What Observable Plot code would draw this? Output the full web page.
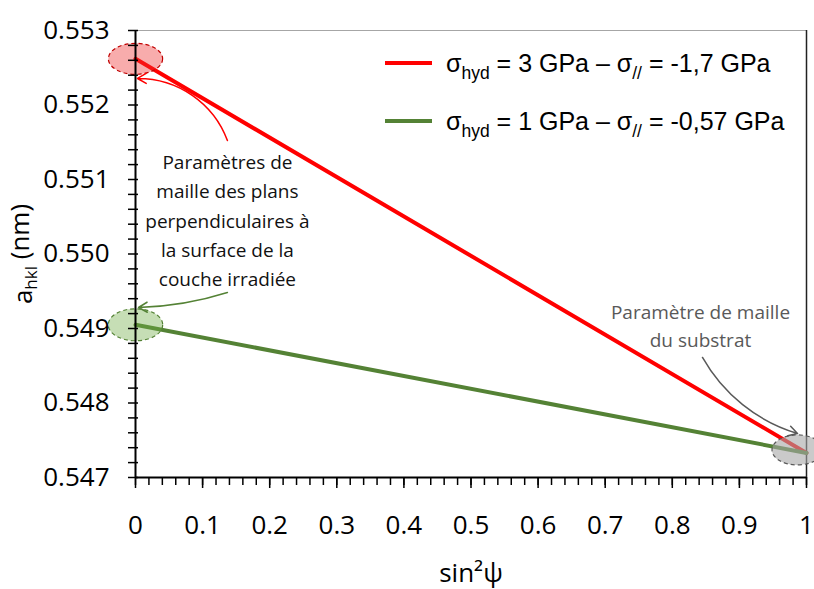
<!DOCTYPE html>
<html><head><meta charset="utf-8">
<script src="https://cdn.jsdelivr.net/npm/d3@7"></script>
<script src="https://cdn.jsdelivr.net/npm/@observablehq/plot@0.6"></script>
<style>
body{margin:0;background:#fff;}
#wrap{position:relative;width:814px;height:589px;}
#legend{position:absolute;left:0;top:0;font-family:"Liberation Sans",Arial,sans-serif;font-size:25px;color:#000;}
.item{position:absolute;left:385px;height:30px;display:flex;align-items:center;white-space:nowrap;}
.sw{width:47px;height:4px;margin-right:14px;}
.item sub{font-size:17.5px;vertical-align:-7px;line-height:0;}
</style></head><body>
<div id="wrap"><div id="chart"></div><div id="legend"></div></div>
<script>
// ---- data ----
const sin2psi = [0, 1];
const hydStress = ["3", "1"];
const parStress = ["-1,7", "-0,57"];
const aRed = [0.55262, 0.54733];
const aGreen = [0.54905, 0.54733];
const seriesColors = ["#ff0000", "#548235"];
const xTicks = [0, 0.1, 0.2, 0.3, 0.4, 0.5, 0.6, 0.7, 0.8, 0.9, 1];
const yTicks = [0.547, 0.548, 0.549, 0.550, 0.551, 0.552, 0.553];
const noteText = ["Paramètres de\nmaille des plans\nperpendiculaires à\nla surface de la\ncouche irradiée", "Paramètre de maille\ndu substrat"];
const noteX = [0.137, 0.842];
const noteY = [0.55048, 0.549054];

const seriesNames = hydStress.map((h, i) => `σhyd = ${h} GPa – σ// = ${parStress[i]} GPa`);
const rows = [];
[aRed, aGreen].forEach((vals, i) => sin2psi.forEach((x, j) => rows.push({series: seriesNames[i], x, y: vals[j]})));

const xMinor = d3.range(0, 50.5).map(i => i * 0.02);
const yMinor = d3.range(0, 30.5).map(i => 0.547 + i * 0.0002);

function ellipseSymbol(aspect) {
  return {draw(ctx, size) {
    const ry = Math.sqrt(size / Math.PI), rx = ry * aspect, k = 0.5523;
    ctx.moveTo(rx, 0);
    ctx.bezierCurveTo(rx, k * ry, k * rx, ry, 0, ry);
    ctx.bezierCurveTo(-k * rx, ry, -rx, k * ry, -rx, 0);
    ctx.bezierCurveTo(-rx, -k * ry, -k * rx, -ry, 0, -ry);
    ctx.bezierCurveTo(k * rx, -ry, rx, -k * ry, rx, 0);
    ctx.closePath();
  }};
}

const arrows = [
  {x1: noteX[0], y1: 0.551523, x2: 0.003, y2: 0.552356, c: "#ff0000", bend: -35},
  {x1: noteX[0], y1: 0.549483, x2: 0.0045, y2: 0.549282, c: "#548235", bend: 8},
  {x1: 0.845, y1: 0.548611, x2: 0.9866, y2: 0.547591, c: "#595959", bend: -22}
];

const chart = Plot.plot({
  width: 814, height: 589,
  marginLeft: 135, marginRight: 8, marginTop: 30, marginBottom: 112,
  style: {fontFamily: '"Open Sans", sans-serif', fontSize: "26px", background: "#fff", color: "#000"},
  x: {domain: [0, 1]},
  y: {domain: [0.547, 0.553]},
  color: {domain: seriesNames, range: seriesColors},
  marks: [
    Plot.ruleY([0.553], {stroke: "#a6a6a6", strokeWidth: 1.2}),
    Plot.ruleX([1], {stroke: "#222", strokeWidth: 1.5}),
    Plot.line(rows, {x: "x", y: "y", z: "series", stroke: "series", strokeWidth: 4}),
    Plot.dot([{x: sin2psi[0], y: aRed[0]}], {x: "x", y: "y", r: 15.5, symbol: ellipseSymbol(1.75), fill: "#ee3030", fillOpacity: 0.4, stroke: "#c00000", strokeWidth: 1.2, strokeDasharray: "4,3"}),
    Plot.dot([{x: sin2psi[0], y: aGreen[0]}], {x: "x", y: "y", r: 16, symbol: ellipseSymbol(1.7), fill: "#70ad47", fillOpacity: 0.4, stroke: "#548235", strokeWidth: 1.2, strokeDasharray: "4,3"}),
    Plot.dot([{x: sin2psi[1], y: aRed[1]}], {x: "x", y: "y", r: 15, dx: -9, dy: -3, symbol: ellipseSymbol(1.7), fill: "#a6a6a6", fillOpacity: 0.6, stroke: "#595959", strokeWidth: 1.2, strokeDasharray: "4,3"}),
    ...arrows.map(a => Plot.arrow([a], {x1: "x1", y1: "y1", x2: "x2", y2: "y2", stroke: a.c, bend: a.bend, strokeWidth: 1.5, headLength: 10})),
    Plot.text([0], {x: noteX[0], y: noteY[0], text: [noteText[0]], fontSize: 19, lineHeight: 1.53, fill: "#111"}),
    Plot.text([0], {x: noteX[1], y: noteY[1], text: [noteText[1]], fontSize: 19, lineHeight: 1.47, fill: "#595959"}),
    Plot.ruleY([0.547], {stroke: "#000", strokeWidth: 2}),
    Plot.ruleX([0], {stroke: "#000", strokeWidth: 2}),
    Plot.axisY({ticks: yTicks, tickSize: 0, tickPadding: 26, tickFormat: d3.format(".3f"), fontSize: 26, label: "ahkl (nm)", labelAnchor: "center", labelOffset: 122, labelArrow: false}),
    Plot.axisY({ticks: yMinor, tickSize: 10, dx: 3, text: null, label: null, strokeWidth: 1.5}),
    Plot.axisX({ticks: xTicks, tickSize: 0, tickPadding: 38, tickFormat: d => String(+d.toFixed(1)), fontSize: 26, label: "sin²ψ", labelAnchor: "center", labelOffset: 104, labelArrow: false}),
    Plot.axisX({ticks: xMinor, tickSize: 8, text: null, label: null, strokeWidth: 1.5}),
    Plot.axisX({ticks: xTicks, tickSize: 11, text: null, label: null, strokeWidth: 1.5})
  ]
});
document.getElementById("chart").appendChild(chart);

// subscript in y label
const yl = d3.select(chart).select('g[aria-label="y-axis label"] text');
if (!yl.empty()) {
  yl.text(null);
  yl.append("tspan").text("a");
  yl.append("tspan").attr("font-size", 17).attr("dy", "0.3em").text("hkl");
  yl.append("tspan").attr("dy", "-0.3em").text(" (nm)");
}

// legend
const lg = d3.select("#legend");
seriesNames.forEach((s, i) => {
  const it = lg.append("div").attr("class", "item").style("top", (i === 0 ? 48 : 106) + "px");
  it.append("div").attr("class", "sw").style("background", seriesColors[i]);
  it.append("span").html(`σ<sub>hyd</sub> = ${hydStress[i]} GPa – σ<sub>//</sub> = ${parStress[i]} GPa`);
});
</script>
</body></html>
